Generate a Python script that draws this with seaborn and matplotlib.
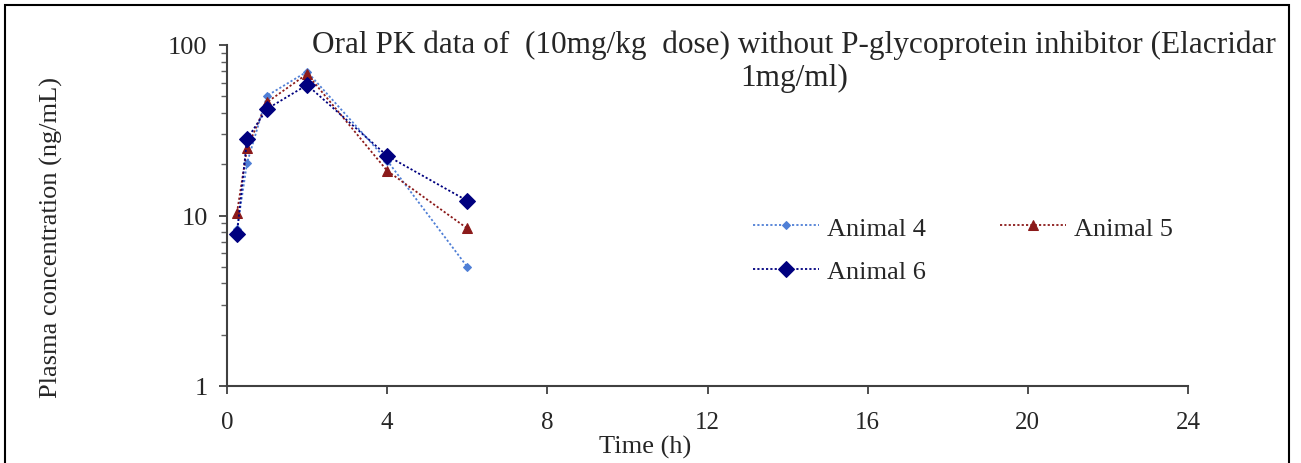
import numpy as np
import pandas as pd
import matplotlib
matplotlib.use("Agg")
import matplotlib.pyplot as plt
import matplotlib.ticker as mticker
from matplotlib.patches import Rectangle
import seaborn as sns

# === data ===
time_h = [0.25, 0.5, 1, 2, 4, 6]
animal_4 = [8.3, 20.3, 50.4, 69.8, 21.0, 5.0]
animal_5 = [10.4, 24.8, 46.2, 67.6, 18.3, 8.4]
animal_6 = [7.8, 28.1, 42.2, 58.3, 22.4, 12.2]
animal_names = ["Animal 4", "Animal 5", "Animal 6"]
x_ticks = [0, 4, 8, 12, 16, 20, 24]
y_ticks = [1, 10, 100]

df = pd.DataFrame({
    "Time": time_h * 3,
    "Conc": animal_4 + animal_5 + animal_6,
    "Animal": np.repeat(animal_names, len(time_h)),
})

# style per animal
colors = {"Animal 4": "#4f7fd6", "Animal 5": "#8b1a1a", "Animal 6": "#00007f"}
markers = {"Animal 4": "D", "Animal 5": "^", "Animal 6": "D"}
msizes = {"Animal 4": 4.5, "Animal 5": 6.5, "Animal 6": 8.5}

sns.set_style("ticks")
plt.rcParams["font.family"] = ["Liberation Serif", "DejaVu Serif"]

fig = plt.figure(figsize=(13.01, 4.64), dpi=100)
ax = fig.add_axes([227 / 1301, 1 - 387 / 464, (1188 - 227) / 1301, (387 - 46) / 464])

for name in animal_names:
    sns.lineplot(
        data=df[df["Animal"] == name],
        x="Time", y="Conc",
        color=colors[name],
        marker=markers[name],
        markersize=msizes[name],
        markeredgecolor=colors[name],
        linestyle=(0, (1.2, 1.2)),
        linewidth=1.3,
        label=name,
        ax=ax,
    )

# axes
ax.set_yscale("log")
ax.set_ylim(1, 100)
ax.set_xlim(0, 24)
ax.set_xticks(x_ticks)
ax.set_yticks(y_ticks)
ax.yaxis.set_major_formatter(mticker.FormatStrFormatter("%g"))
ax.yaxis.set_minor_locator(mticker.LogLocator(base=10, subs=np.arange(2, 10)))
ax.yaxis.set_minor_formatter(mticker.NullFormatter())
ax.tick_params(axis="y", which="major", labelsize=19, length=6, width=1.3,
               color="#404040", direction="out", pad=8)
ax.tick_params(axis="y", which="minor", length=4, width=1.0, color="#606060",
               direction="out")
ax.tick_params(axis="x", labelsize=18, length=6, width=1.3, color="#404040",
               direction="out", pad=12)
ax.set_xlabel("")
ax.set_ylabel("")
sns.despine(ax=ax)
for side in ("left", "bottom"):
    ax.spines[side].set_color("#404040")
    ax.spines[side].set_linewidth(1.5)
ax.grid(False)

# labels and title
fig.text(794 / 1301, 1 - 31 / 464,
         "Oral PK data of  (10mg/kg  dose) without P-glycoprotein inhibitor (Elacridar\n1mg/ml)",
         ha="center", va="top", fontsize=22.5, linespacing=1.15)
fig.text(645 / 1301, 1 - 447 / 464, "Time (h)", ha="center", va="center", fontsize=19)
fig.text(51 / 1301, 1 - 237 / 464, "Plasma concentration (ng/mL)", rotation=90,
         ha="center", va="center", fontsize=19)

# legend, filled row by row
handles, labels = ax.get_legend_handles_labels()
order = [0, 2, 1]
ax.legend(
    [handles[i] for i in order], [labels[i] for i in order],
    loc="upper left", bbox_to_anchor=(740 / 1301, 1 - 204 / 464),
    bbox_transform=fig.transFigure, ncol=2, frameon=False, fontsize=19,
    borderpad=0, handlelength=2.5, handletextpad=0.3, columnspacing=2.8,
    labelspacing=0.75,
)

# outer frame
fig.patches.append(Rectangle((5 / 1301, -0.05), (1289 - 5) / 1301, 1.05 - 6 / 464,
                             transform=fig.transFigure, fill=False,
                             edgecolor="black", linewidth=1.5))

plt.savefig("out.png", dpi=100)
plt.close()
